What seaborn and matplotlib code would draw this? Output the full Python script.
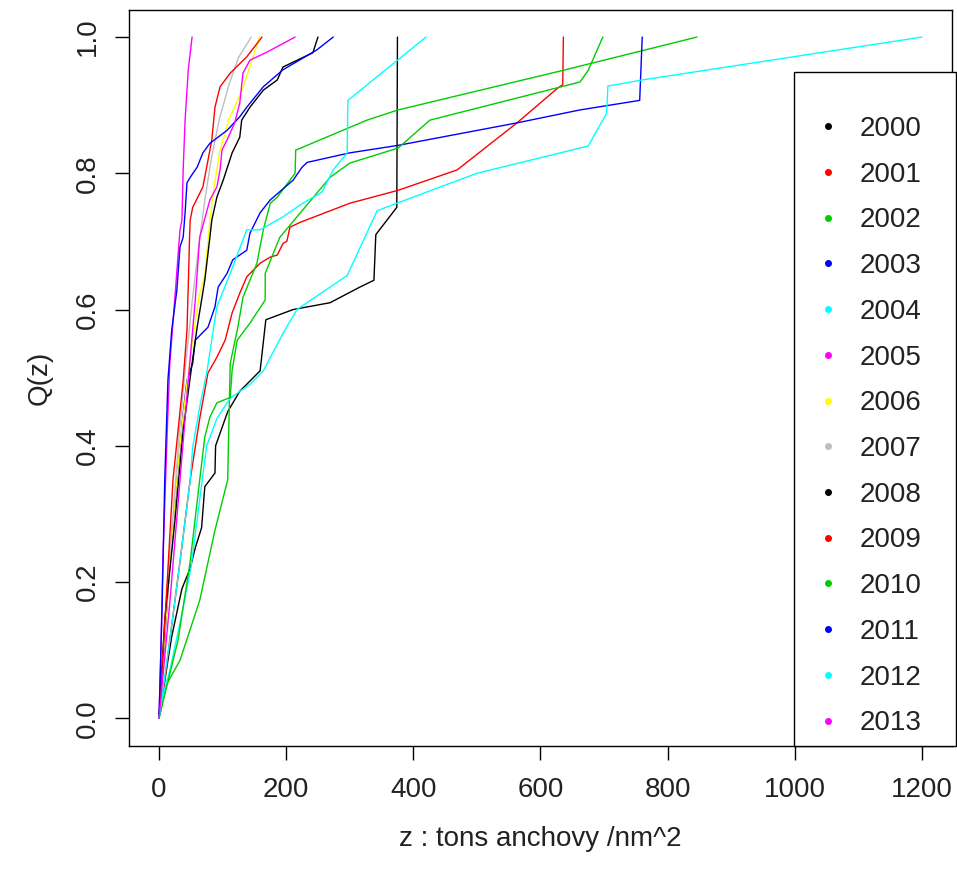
import matplotlib
matplotlib.use("Agg")
import matplotlib.pyplot as plt
from matplotlib.lines import Line2D
from matplotlib.patches import Rectangle
import seaborn as sns
import pandas as pd

# ---------------- DATA ----------------
years = [2000, 2001, 2002, 2003, 2004, 2005, 2006,
         2007, 2008, 2009, 2010, 2011, 2012, 2013]
year_colors = ["black", "red", "#00cd00", "blue", "cyan", "magenta", "yellow",
               "#bebebe", "black", "red", "#00cd00", "blue", "cyan", "magenta"]

z_2000 = [0, 5, 14, 20, 28, 36, 49, 57, 67, 72, 88, 89, 108, 127, 159, 168, 211, 269, 316, 338, 341, 374, 375]
q_2000 = [0, 0.03, 0.085, 0.12, 0.155, 0.19, 0.22, 0.25, 0.28, 0.34, 0.36, 0.40, 0.45, 0.48, 0.51, 0.585, 0.60, 0.61, 0.633, 0.643, 0.71, 0.75, 1.0]

z_2001 = [0, 8, 17, 33, 49, 64, 77, 91, 104, 115, 127, 138, 159, 175, 186, 195, 201, 206, 222, 300, 376, 469, 563, 627, 635, 636]
q_2001 = [0, 0.05, 0.115, 0.23, 0.35, 0.44, 0.507, 0.53, 0.555, 0.595, 0.624, 0.648, 0.668, 0.677, 0.68, 0.697, 0.70, 0.721, 0.728, 0.756, 0.775, 0.805, 0.874, 0.925, 0.93, 1.0]

z_2002 = [0, 12, 33, 64, 88, 108, 112, 124, 132, 154, 164, 175, 186, 206, 214, 215, 327, 376, 635, 846]
q_2002 = [0, 0.05, 0.085, 0.173, 0.276, 0.35, 0.521, 0.574, 0.618, 0.668, 0.717, 0.756, 0.765, 0.79, 0.80, 0.834, 0.878, 0.893, 0.951, 1.0]

z_2003 = [0, 9, 17, 28, 33, 38, 44, 53, 57, 77, 88, 93, 107, 116, 138, 143, 159, 175, 211, 225, 233, 300, 376, 563, 662, 756, 760]
q_2003 = [0, 0.115, 0.23, 0.349, 0.398, 0.448, 0.496, 0.521, 0.555, 0.574, 0.604, 0.633, 0.653, 0.673, 0.687, 0.712, 0.742, 0.761, 0.79, 0.809, 0.816, 0.83, 0.841, 0.874, 0.893, 0.907, 1.0]

z_2004 = [0, 8, 17, 33, 50, 68, 75, 91, 112, 143, 164, 195, 217, 296, 343, 374, 500, 675, 704, 706, 760, 1200]
q_2004 = [0, 0.04, 0.07, 0.14, 0.22, 0.35, 0.40, 0.44, 0.47, 0.49, 0.51, 0.565, 0.60, 0.65, 0.745, 0.756, 0.80, 0.84, 0.888, 0.928, 0.937, 1.0]

z_2005 = [0, 3, 6, 13, 17, 25, 33, 36, 38, 41, 46, 52]
q_2005 = [0, 0.1, 0.23, 0.423, 0.521, 0.618, 0.717, 0.731, 0.805, 0.878, 0.952, 1.0]

z_2006 = [0, 6, 15, 25, 35, 45, 55, 63, 72, 80, 85, 95, 110, 130, 158]
q_2006 = [0, 0.08, 0.2, 0.32, 0.42, 0.5, 0.57, 0.62, 0.65, 0.73, 0.77, 0.83, 0.88, 0.92, 1.0]

z_2007 = [0, 5, 12, 22, 32, 42, 52, 62, 72, 82, 95, 110, 125, 145]
q_2007 = [0, 0.07, 0.18, 0.3, 0.42, 0.52, 0.61, 0.69, 0.76, 0.82, 0.88, 0.93, 0.97, 1.0]

z_2008 = [0, 9, 25, 38, 52, 60, 72, 80, 83, 91, 101, 115, 127, 130, 143, 164, 186, 195, 242, 250]
q_2008 = [0, 0.144, 0.29, 0.423, 0.521, 0.574, 0.643, 0.706, 0.731, 0.765, 0.79, 0.83, 0.853, 0.878, 0.897, 0.922, 0.937, 0.956, 0.977, 1.0]

z_2009 = [0, 11, 22, 30, 38, 44, 47, 48, 49, 53, 69, 77, 83, 88, 96, 112, 138, 162]
q_2009 = [0, 0.17, 0.35, 0.423, 0.496, 0.57, 0.668, 0.706, 0.731, 0.75, 0.78, 0.819, 0.849, 0.897, 0.927, 0.947, 0.971, 1.0]

z_2010 = [0, 30, 49, 64, 72, 80, 91, 112, 115, 123, 143, 167, 167, 190, 269, 300, 376, 426, 662, 675, 698]
q_2010 = [0, 0.115, 0.23, 0.35, 0.413, 0.442, 0.463, 0.471, 0.511, 0.555, 0.58, 0.614, 0.653, 0.706, 0.794, 0.815, 0.837, 0.878, 0.934, 0.951, 1.0]

z_2011 = [0, 5, 9, 14, 20, 28, 33, 38, 41, 44, 49, 60, 69, 80, 107, 127, 138, 164, 195, 248, 274]
q_2011 = [0, 0.17, 0.35, 0.496, 0.57, 0.628, 0.692, 0.706, 0.742, 0.786, 0.794, 0.809, 0.83, 0.844, 0.863, 0.883, 0.897, 0.927, 0.952, 0.981, 1.0]

z_2012 = [0, 17, 33, 49, 53, 64, 75, 91, 112, 138, 159, 195, 226, 256, 274, 296, 297, 420]
q_2012 = [0, 0.115, 0.23, 0.349, 0.398, 0.457, 0.507, 0.604, 0.653, 0.717, 0.717, 0.736, 0.756, 0.772, 0.805, 0.83, 0.907, 1.0]

z_2013 = [0, 17, 33, 46, 57, 64, 80, 91, 96, 99, 107, 119, 127, 132, 143, 170, 214]
q_2013 = [0, 0.17, 0.35, 0.496, 0.614, 0.706, 0.761, 0.78, 0.805, 0.834, 0.849, 0.874, 0.903, 0.947, 0.966, 0.978, 1.0]

x_ticks = [0, 200, 400, 600, 800, 1000, 1200]
y_ticks = [0.0, 0.2, 0.4, 0.6, 0.8, 1.0]
# ---------------------------------------------------------------

curves = {
    2000: (z_2000, q_2000), 2001: (z_2001, q_2001), 2002: (z_2002, q_2002),
    2003: (z_2003, q_2003), 2004: (z_2004, q_2004), 2005: (z_2005, q_2005),
    2006: (z_2006, q_2006), 2007: (z_2007, q_2007), 2008: (z_2008, q_2008),
    2009: (z_2009, q_2009), 2010: (z_2010, q_2010), 2011: (z_2011, q_2011),
    2012: (z_2012, q_2012), 2013: (z_2013, q_2013),
}

rows = []
for yr in years:
    zs, qs = curves[yr]
    for i, (z, q) in enumerate(zip(zs, qs)):
        rows.append({"year": str(yr), "order": i, "z": z, "Q": q})
df = pd.DataFrame(rows)

sns.set_style("white")
plt.rcParams["font.family"] = ["Liberation Sans", "DejaVu Sans"]

fig = plt.figure(figsize=(9.57, 8.69), dpi=100)
ax = fig.add_axes([128.5 / 957, 1 - 745.5 / 869, 824 / 957, 735.7 / 869])

palette = dict(zip([str(y) for y in years], year_colors))
sns.lineplot(data=df, x="z", y="Q", hue="year", palette=palette,
             sort=False, estimator=None, linewidth=1.0, legend=False, ax=ax)

ax.set_xlim(-48, 1248)
ax.set_ylim(-0.04, 1.04)
ax.set_xticks(x_ticks)
ax.set_xticklabels([str(t) for t in x_ticks])
ax.set_yticks(y_ticks)
ax.set_yticklabels([f"{t:.1f}" for t in y_ticks], rotation=90, va="center")

for s in ax.spines.values():
    s.set_visible(True)
    s.set_color("black")
    s.set_linewidth(1.0)

ax.tick_params(axis="both", direction="out", length=10, width=1.0,
               color="black", labelsize=20, labelcolor="#222222")
ax.tick_params(axis="x", pad=13, bottom=True)
ax.tick_params(axis="y", pad=10, left=True)

ax.set_xlabel("z : tons anchovy /nm^2", fontsize=20, color="#222222", labelpad=16)
ax.set_ylabel("Q(z)", fontsize=20, color="#222222", labelpad=16)

# legend box (R style: frame reaches the bottom of the plot, spills past the right edge)
ax.add_patch(Rectangle((0.8077, 0.0), 0.196, 0.9155, transform=ax.transAxes,
                       fill=True, facecolor="white", edgecolor="black",
                       linewidth=1.0, clip_on=False, zorder=5))
handles = [Line2D([], [], linestyle="none", marker="o", markersize=4,
                  color=c) for c in year_colors]
leg = ax.legend(handles, [str(y) for y in years], loc="upper left",
                bbox_to_anchor=(0.832, 0.8557), frameon=False, borderpad=0,
                borderaxespad=0, fontsize=20, handlelength=1.0,
                handletextpad=0.65, labelspacing=0.71)
leg.set_zorder(6)
for t in leg.get_texts():
    t.set_color("#222222")

plt.savefig("out.png", dpi=100)
